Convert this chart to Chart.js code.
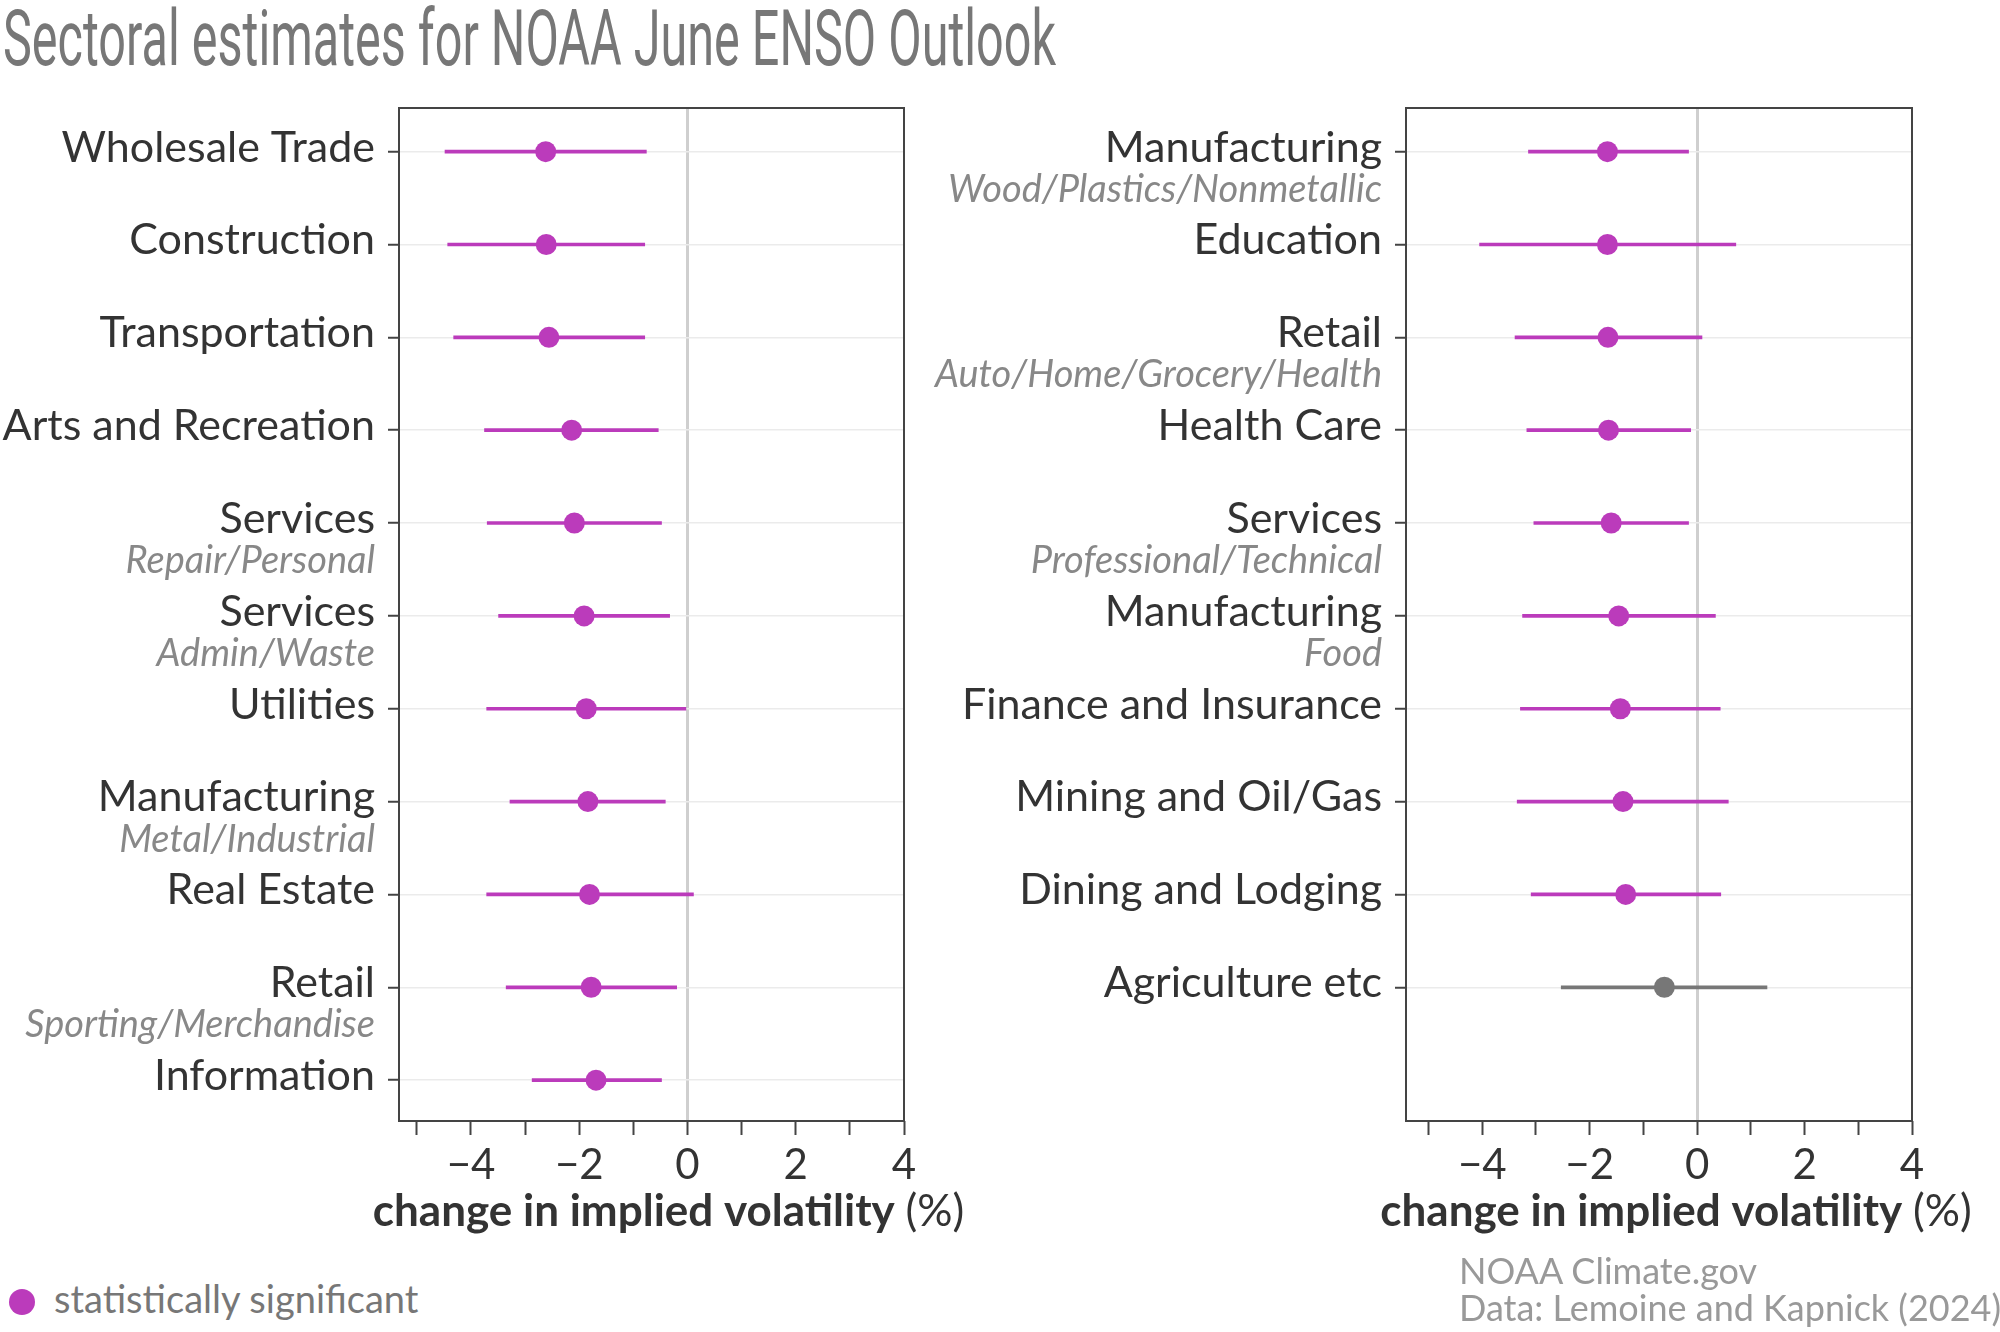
<!DOCTYPE html>
<html>
<head>
<meta charset="utf-8">
<script src="https://cdn.jsdelivr.net/npm/chart.js@4.4.1/dist/chart.umd.min.js"></script>
<style>
html,body{margin:0;padding:0;background:#fff;}
body{width:2000px;height:1332px;position:relative;overflow:hidden;font-family:Lato,sans-serif;}
#title{position:absolute;left:3px;top:0;font-family:Roboto,sans-serif;font-weight:400;font-size:78px;line-height:78px;color:#777;white-space:nowrap;transform-origin:0 0;}
canvas{position:absolute;top:0;}
#cL{left:0;}
#cR{left:920px;}
#legDot{position:absolute;left:9px;top:1289px;width:26px;height:26px;border-radius:50%;background:#BB3BBB;}
#legText{position:absolute;left:54px;top:1279px;font-size:38px;line-height:38px;color:#777;white-space:nowrap;}
#credit{position:absolute;left:1459px;top:1252px;font-size:36px;line-height:37px;color:#999;white-space:nowrap;}
</style>
</head>
<body>
<div id="title">Sectoral estimates for NOAA June ENSO Outlook</div>
<canvas id="cL" width="1000" height="1250"></canvas>
<canvas id="cR" width="1080" height="1250"></canvas>
<div id="legDot"></div>
<div id="legText">statistically significant</div>
<div id="credit">NOAA Climate.gov<br>Data: Lemoine and Kapnick (2024)</div>
<script>
// ---------- data ----------
const leftSectors = ['Wholesale Trade','Construction','Transportation','Arts and Recreation','Services','Services','Utilities','Manufacturing','Real Estate','Retail','Information'];
const leftSubs    = ['','','','','Repair/Personal','Admin/Waste','','Metal/Industrial','','Sporting/Merchandise',''];
const leftEstimate = [-2.62,-2.61,-2.56,-2.14,-2.09,-1.91,-1.87,-1.84,-1.81,-1.78,-1.69];
const leftLower    = [-4.48,-4.43,-4.32,-3.75,-3.70,-3.49,-3.71,-3.28,-3.71,-3.35,-2.87];
const leftUpper    = [-0.76,-0.79,-0.79,-0.54,-0.48,-0.33,-0.03,-0.41,0.11,-0.20,-0.48];
const leftSignificant = [true,true,true,true,true,true,true,true,true,true,true];

const rightSectors = ['Manufacturing','Education','Retail','Health Care','Services','Manufacturing','Finance and Insurance','Mining and Oil/Gas','Dining and Lodging','Agriculture etc'];
const rightSubs    = ['Wood/Plastics/Nonmetallic','','Auto/Home/Grocery/Health','','Professional/Technical','Food','','','',''];
const rightEstimate = [-1.67,-1.67,-1.66,-1.65,-1.60,-1.46,-1.43,-1.38,-1.33,-0.61];
const rightLower    = [-3.14,-4.05,-3.39,-3.17,-3.04,-3.25,-3.29,-3.35,-3.09,-2.53];
const rightUpper    = [-0.16,0.72,0.09,-0.12,-0.16,0.34,0.43,0.58,0.44,1.30];
const rightSignificant = [true,true,true,true,true,true,true,true,true,false];

const xTickValues = [-5,-4,-3,-2,-1,0,1,2,3,4];
const xTickLabels = ['','\u22124','','\u22122','','0','','2','','4'];
const xAxisTitleBold = 'change in implied volatility';
const xAxisTitleUnit = '(%)';

// ---------- style ----------
const SIG_COLOR = '#BB3BBB';
const NS_COLOR = '#777777';
const Y_MIN = -0.47, Y_MAX = 10.44;   // row-slot range shared by both panels
const FONT = 'Lato';

function makePanel(id, sectors, subs, est, lo, hi, sig, xMin, yAxisWidth, padRight) {
  const rows = sectors.map((s, i) => i);
  const colors = sig.map(s => s ? SIG_COLOR : NS_COLOR);

  const panelPlugin = {
    id: 'panelDecor_' + id,
    afterDraw(chart) {
      const ctx = chart.ctx, a = chart.chartArea;
      ctx.save();
      // frame
      ctx.strokeStyle = '#444';
      ctx.lineWidth = 2;
      ctx.strokeRect(a.left, a.top, a.right - a.left, a.bottom - a.top);
      // sub labels
      const ys = chart.scales.y;
      ctx.font = 'italic 38px ' + FONT;
      ctx.fillStyle = '#888';
      ctx.textAlign = 'right';
      ctx.textBaseline = 'alphabetic';
      const xr = ys.right - 11 - 13;
      subs.forEach((s, i) => {
        if (!s) return;
        const y = ys.getPixelForValue(i);
        ctx.fillText(s, xr, y + 50);
      });
      // x axis title (bold + regular)
      ctx.textBaseline = 'middle';
      ctx.textAlign = 'left';
      const bold = 'bold 44px ' + FONT, reg = '44px ' + FONT;
      ctx.font = bold; const wb = ctx.measureText(xAxisTitleBold + ' ').width;
      ctx.font = reg; const wr = ctx.measureText(xAxisTitleUnit).width;
      const cx = (a.left + a.right) / 2 + 17;
      const x0 = cx - (wb + wr) / 2;
      const ty = a.bottom + 91;
      ctx.fillStyle = '#333';
      ctx.font = bold; ctx.fillText(xAxisTitleBold + ' ', x0, ty);
      ctx.font = reg; ctx.fillText(xAxisTitleUnit, x0 + wb, ty);
      ctx.restore();
    }
  };

  return new Chart(document.getElementById(id), {
    type: 'bar',
    data: {
      datasets: [
        {
          type: 'line',
          label: 'estimate',
          indexAxis: 'y',
          data: est.map((v, i) => ({ x: v, y: rows[i] })),
          showLine: false,
          pointRadius: 10.5,
          pointHoverRadius: 10.5,
          pointBorderWidth: 0,
          pointBackgroundColor: colors,
          order: 0
        },
        {
          type: 'bar',
          label: 'interval',
          data: lo.map((l, i) => ({ x: [l, hi[i]], y: rows[i] })),
          backgroundColor: colors,
          barThickness: 3,
          order: 1
        }
      ]
    },
    options: {
      indexAxis: 'y',
      responsive: false,
      animation: false,
      events: [],
      layout: { padding: { top: 108, right: padRight, bottom: 0, left: 0 } },
      plugins: { legend: { display: false }, tooltip: { enabled: false } },
      scales: {
        x: {
          type: 'linear',
          min: xMin,
          max: 4,
          offset: false,
          afterBuildTicks: s => { s.ticks = xTickValues.map(v => ({ value: v })); },
          afterFit: s => { s.height = 129; },
          ticks: {
            autoSkip: false,
            maxRotation: 0,
            padding: 5,
            color: '#333',
            font: { family: FONT, size: 42 },
            callback: (v) => { const k = xTickValues.indexOf(v); return k >= 0 ? xTickLabels[k] : ''; }
          },
          grid: {
            offset: false,
            color: c => (c.tick && c.tick.value === 0) ? '#cfcfcf' : 'rgba(0,0,0,0)',
            lineWidth: c => (c.tick && c.tick.value === 0) ? 3 : 1,
            drawTicks: true,
            tickLength: 14,
            tickColor: '#444',
            tickWidth: 2
          },
          border: { display: false }
        },
        y: {
          type: 'linear',
          reverse: true,
          min: Y_MIN,
          max: Y_MAX,
          offset: false,
          afterBuildTicks: s => { s.ticks = rows.map(v => ({ value: v })); },
          afterFit: s => { s.width = yAxisWidth; },
          ticks: {
            autoSkip: false,
            padding: 13,
            color: '#333',
            font: { family: FONT, size: 43 },
            labelOffset: -4,
            callback: v => sectors[v] !== undefined ? sectors[v] : ''
          },
          grid: {
            offset: false,
            color: '#ebebeb',
            lineWidth: 1.5,
            drawTicks: true,
            tickLength: 11,
            tickColor: '#444',
            tickWidth: 2
          },
          border: { display: false }
        }
      }
    },
    plugins: [panelPlugin]
  });
}

function fitTitle() {
  const t = document.getElementById('title');
  const w = t.getBoundingClientRect().width;
  t.style.transform = 'scaleX(' + (1053 / w) + ')';
}

Promise.all([
  document.fonts.load('42px Lato'),
  document.fonts.load('bold 44px Lato'),
  document.fonts.load('italic 38px Lato'),
  document.fonts.load('400 78px Roboto')
]).catch(() => {}).then(() => {
  fitTitle();
  makePanel('cL', leftSectors, leftSubs, leftEstimate, leftLower, leftUpper, leftSignificant, -5.33, 399, 96);
  makePanel('cR', rightSectors, rightSubs, rightEstimate, rightLower, rightUpper, rightSignificant, -5.42, 486, 88);
});
</script>
</body>
</html>
